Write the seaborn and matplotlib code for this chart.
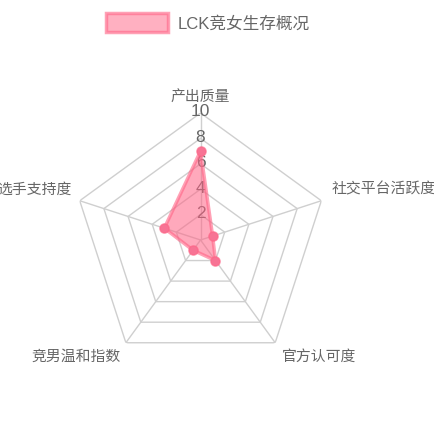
import numpy as np
import pandas as pd
import seaborn as sns
import matplotlib.pyplot as plt
from matplotlib.patches import Patch

sns.set_theme(style="white")
plt.rcParams['font.family'] = ['Liberation Sans', 'Noto Sans CJK SC', 'DejaVu Sans']

# data
categories = ['产出质量', '社交平台活跃度', '官方认可度', '竞男温和指数', '选手支持度']
values = [7, 1, 2, 1, 3]
series_name = 'LCK竞女生存概况'
ticks = [2, 4, 6, 8, 10]

n = len(categories)
angles = np.linspace(0, 2 * np.pi, n, endpoint=False)
df = pd.DataFrame({'theta': angles, 'r': values, 'cat': categories})

fig = plt.figure(figsize=(4.35, 4.35), dpi=100)
ax = fig.add_axes([0.169, 0.154, 0.584, 0.584], projection='polar')
ax.set_theta_zero_location('N')
ax.set_theta_direction(-1)
ax.set_ylim(0, 10)
ax.grid(False)
ax.spines['polar'].set_visible(False)
ax.set_facecolor('none')

grid_col = '#cfcfcf'
closed = np.append(angles, angles[0])
for t in ticks:
    ax.plot(closed, [t] * (n + 1), color=grid_col, lw=1, zorder=1)
for a in angles:
    ax.plot([a, a], [0, 10], color=grid_col, lw=1, zorder=1)

# tick labels along the top axis
for t in ticks:
    ax.annotate(str(t), xy=(0, t), xytext=(0, 2), textcoords='offset pixels',
                ha='center', va='center', fontsize=12.5, color='#666666', zorder=2)

# category labels
offsets = [(0, 17, 'center'), (10, 12, 'left'), (7, -13, 'left'),
           (-5, -13, 'right'), (-8, 12, 'right')]
for a, lab, (dx, dy, ha) in zip(angles, categories, offsets):
    ax.annotate(lab, xy=(a, 10), xytext=(dx, dy), textcoords='offset pixels',
                ha=ha, va='center', fontsize=10.7, color='#666666',
                annotation_clip=False)

# data polygon
rv = np.append(df['r'].values, df['r'].values[0])
ax.fill(closed, rv, color=(1.0, 0.39, 0.52, 0.55), lw=0, zorder=3)
ax.plot(closed, rv, color=(1.0, 0.39, 0.52, 0.6), lw=2.5, zorder=4)
sns.scatterplot(data=df, x='theta', y='r', ax=ax, s=45,
                color=(0.97, 0.45, 0.58), edgecolor=(1.0, 0.39, 0.52, 0.6),
                linewidth=1, zorder=5, legend=False)
ax.set_xlabel('')
ax.set_ylabel('')
ax.set_xticks([])
ax.set_yticks([])
ax.set_ylim(0, 10)

# legend
handle = Patch(facecolor=(1.0, 0.39, 0.52, 0.5), edgecolor=(1.0, 0.39, 0.52, 0.6),
               linewidth=2.5, label=series_name)
fig.legend(handles=[handle], loc='center', bbox_to_anchor=(0.478, 0.946),
           frameon=False, fontsize=12, handlelength=3.7, handleheight=1.3,
           handletextpad=0.55, labelcolor='#666666')

fig.savefig('out.png', dpi=100)
